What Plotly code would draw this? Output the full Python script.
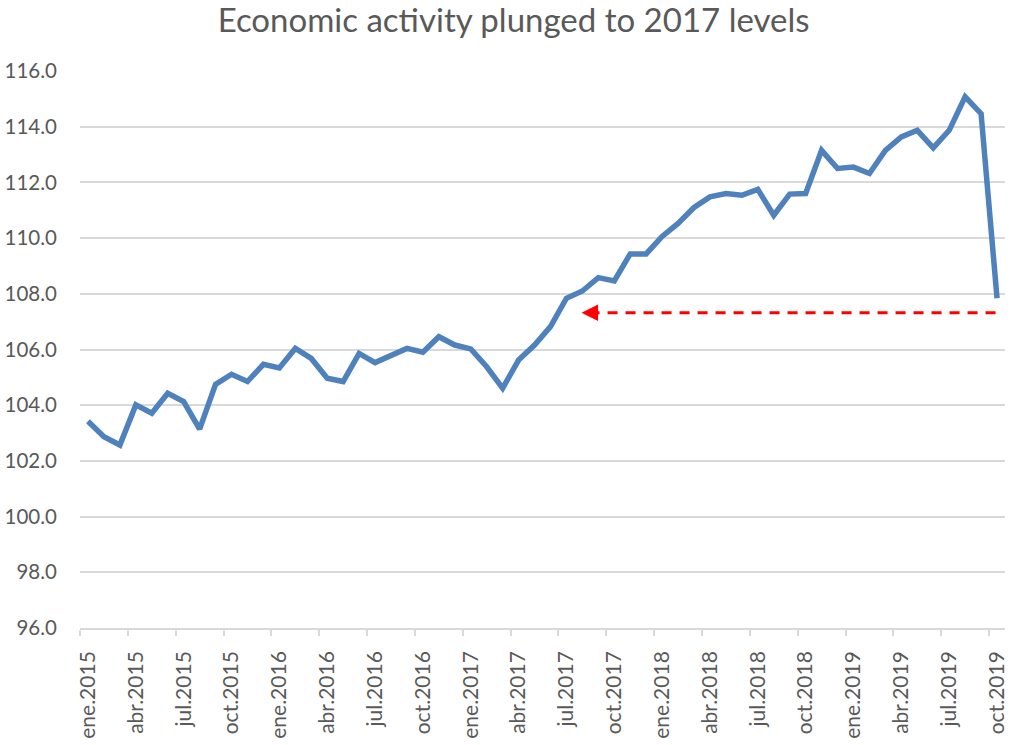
import plotly.graph_objects as go

# Monthly index of economic activity, ene.2015 – oct.2019
months = ["ene", "feb", "mar", "abr", "may", "jun",
          "jul", "ago", "sep", "oct", "nov", "dic"]
years = [2015, 2016, 2017, 2018, 2019]
period_labels = [f"{m}.{y}" for y in years for m in months][:58]

activity = [
    103.42, 102.87, 102.57, 104.01, 103.71, 104.43, 104.13, 103.14, 104.75, 105.11, 104.85, 105.47,
    105.34, 106.04, 105.68, 104.97, 104.85, 105.86, 105.53, 105.80, 106.04, 105.90, 106.46, 106.16,
    106.02, 105.38, 104.61, 105.62, 106.16, 106.82, 107.84, 108.10, 108.58, 108.46, 109.43, 109.43,
    110.06, 110.53, 111.10, 111.48, 111.60, 111.54, 111.75, 110.82, 111.58, 111.60, 113.15, 112.50,
    112.55, 112.32, 113.15, 113.63, 113.87, 113.24, 113.87, 115.07, 114.47, 107.84,
]

y_ticks = [96, 98, 100, 102, 104, 106, 108, 110, 112, 114, 116]

# reference level marked by the dashed arrow (back to mid-2017)
ARROW_LEVEL = 107.32
ARROW_FROM = 57.2
ARROW_TO = 30.95

x_idx = list(range(len(activity)))
label_step = 3
tick_idx = list(range(0, len(activity), label_step))

GREY = "#595959"
GRID = "#d9d9d9"
FONT = "Lato"

fig = go.Figure()

fig.add_trace(go.Scatter(
    x=x_idx, y=activity, mode="lines",
    line=dict(color="#4f81bd", width=5.5),
    hoverinfo="skip", showlegend=False,
))

# dashed shaft of the arrow
fig.add_trace(go.Scatter(
    x=[ARROW_TO + 0.5, ARROW_FROM], y=[ARROW_LEVEL, ARROW_LEVEL], mode="lines",
    line=dict(color="#ff0000", width=3, dash="10px,8px"),
    hoverinfo="skip", showlegend=False,
))

# arrow head
fig.add_annotation(
    x=ARROW_TO, y=ARROW_LEVEL, ax=ARROW_TO + 0.5, ay=ARROW_LEVEL,
    xref="x", yref="y", axref="x", ayref="y",
    text="", showarrow=True, arrowhead=2, arrowsize=1.1, arrowwidth=3,
    arrowcolor="#ff0000", standoff=0,
)

fig.update_layout(
    width=1011, height=745,
    margin=dict(l=80, r=3, t=71, b=117),
    paper_bgcolor="white", plot_bgcolor="white",
    font=dict(family=FONT, color=GREY),
    title=dict(
        text="Economic activity plunged to 2017 levels",
        x=0.508, xanchor="center", y=0.972, yanchor="middle",
        font=dict(family=FONT, size=33, color=GREY),
    ),
    showlegend=False,
)

fig.update_xaxes(
    range=[-0.5, len(activity) - 0.5],
    tickmode="array",
    tickvals=[i - 0.5 for i in tick_idx],
    ticktext=[period_labels[i] for i in tick_idx],
    ticklabelshift=8,
    tickangle=-90,
    ticks="outside", ticklen=6, tickwidth=1.5, tickcolor=GRID,
    ticklabelstandoff=7,
    showline=True, linecolor=GRID, linewidth=1.5,
    showgrid=False, zeroline=False,
    tickfont=dict(family=FONT, size=21, color=GREY),
)

fig.update_yaxes(
    range=[96, 116],
    tickmode="array", tickvals=y_ticks,
    ticktext=[f"{v:.1f}" for v in y_ticks],
    ticks="", ticklabelstandoff=22,
    showgrid=True, gridcolor=GRID, gridwidth=1.5,
    showline=False, zeroline=False,
    tickfont=dict(family=FONT, size=20.5, color=GREY),
)

fig.write_html("out.html")
